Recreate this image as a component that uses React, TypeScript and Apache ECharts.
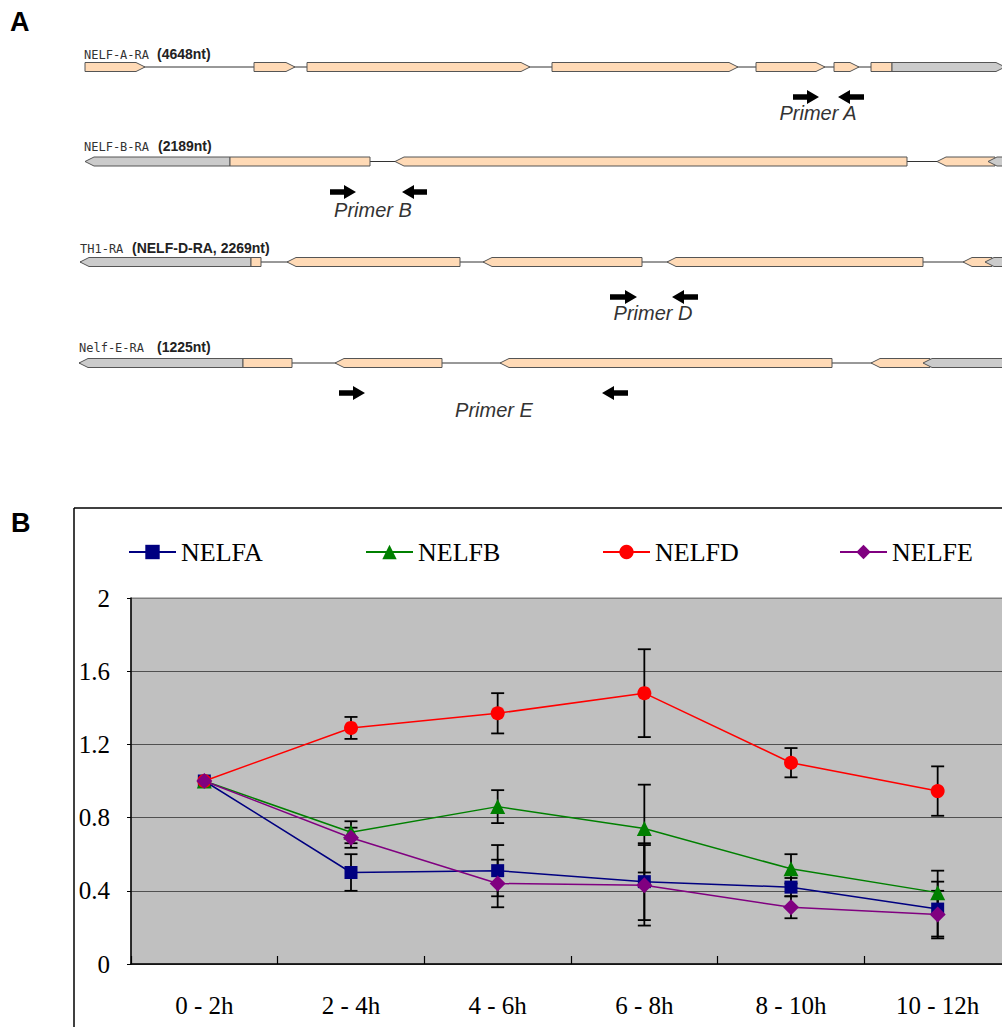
import React, { useEffect, useRef } from 'react';
import * as echarts from 'echarts';

// ---------------- Panel B data ----------------
const categories = ['0 - 2h', '2 - 4h', '4 - 6h', '6 - 8h', '8 - 10h', '10 - 12h'];
const seriesNames = ['NELFA', 'NELFB', 'NELFD', 'NELFE'];
const nelfaValues = [1.0, 0.5, 0.51, 0.45, 0.42, 0.3];
const nelfaErrors = [0, 0.1, 0.14, 0.21, 0.05, 0.15];
const nelfbValues = [1.0, 0.72, 0.86, 0.74, 0.52, 0.39];
const nelfbErrors = [0, 0.06, 0.09, 0.24, 0.08, 0.12];
const nelfdValues = [1.0, 1.29, 1.37, 1.48, 1.1, 0.945];
const nelfdErrors = [0, 0.06, 0.11, 0.24, 0.08, 0.135];
const nelfeValues = [1.0, 0.69, 0.44, 0.43, 0.31, 0.27];
const nelfeErrors = [0, 0.055, 0.13, 0.22, 0.06, 0.13];
const yMin = 0;
const yMax = 2;
const yInterval = 0.4;

// ---------------- Panel A data ----------------
const geneNames = ['NELF-A-RA', 'NELF-B-RA', 'TH1-RA', 'Nelf-E-RA'];
const geneLengths = ['(4648nt)', '(2189nt)', '(NELF-D-RA, 2269nt)', '(1225nt)'];
// segment: [start, end, type (0 = coding, 1 = UTR), tip (1 right, -1 left, 0 none)]
const nelfASegments = [
  [85, 145, 0, 1], [254, 295, 0, 1], [307, 530, 0, 1], [552, 738, 0, 1],
  [756, 825, 0, 1], [834, 859, 0, 1], [871, 892, 0, 0], [892, 1005, 1, 1],
];
const nelfBSegments = [
  [85, 230, 1, -1], [230, 370, 0, 0], [395, 907, 0, -1], [937, 995, 0, -1], [988, 1015, 1, -1],
];
const nelfDSegments = [
  [80, 251, 1, -1], [251, 261, 0, 0], [287, 460, 0, -1], [483, 642, 0, -1],
  [667, 923, 0, -1], [963, 992, 0, -1], [985, 1015, 1, -1],
];
const nelfESegments = [
  [79, 243, 1, -1], [243, 292, 0, 0], [335, 442, 0, -1], [500, 832, 0, -1],
  [871, 930, 0, -1], [923, 1015, 1, -1],
];
const geneSpans = [[85, 1002], [85, 1015], [80, 1015], [79, 1015]];
// primer arrows: [gene row, start, end, direction]
const primerArrows = [
  [0, 793, 819, 1], [0, 838, 864, -1],
  [1, 330, 356, 1], [1, 402, 427, -1],
  [2, 610, 637, 1], [2, 672, 698, -1],
  [3, 339, 365, 1], [3, 602, 628, -1],
];
const primerLabels = ['Primer A', 'Primer B', 'Primer D', 'Primer E'];

// ---------------- layout ----------------
const W = 1020;
const H = 1027;
const ROW_Y = [67, 161.5, 262, 363];
const PRIMER_Y = [97, 192, 297, 393];
const PRIMER_LABEL_X = [818, 373, 653, 494];
const PRIMER_LABEL_Y = [113, 210, 313, 410];
const NAME_X = [84, 84, 80, 79];
const LEN_X = [157, 158, 132, 157];
const LABEL_Y = [55, 147, 249, 348];
const LEGEND_X = [128, 365, 602, 839];
const COLORS = ['#000080', '#008000', '#FF0000', '#800080'];
const SYMBOLS = ['rect', 'triangle', 'circle', 'diamond'];
const SYMBOL_SIZES = [13, 15, 14, 16];

const SERIF = '"Liberation Serif", "Times New Roman", serif';
const SANS = '"Liberation Sans", Arial, sans-serif';

export default function App() {
  const ref = useRef<HTMLDivElement>(null);

  useEffect(() => {
    if (!ref.current) return;
    const chart = echarts.init(ref.current, undefined, { renderer: 'svg' });

    const values = [nelfaValues, nelfbValues, nelfdValues, nelfeValues];
    const errors = [nelfaErrors, nelfbErrors, nelfdErrors, nelfeErrors];
    const allSegments = [nelfASegments, nelfBSegments, nelfDSegments, nelfESegments];

    const geneData: number[][] = [];
    geneSpans.forEach((sp, r) => geneData.push([r, sp[0], sp[1], 2, 0]));
    allSegments.forEach((segs, r) => segs.forEach((s) => geneData.push([r, s[0], s[1], s[2], s[3]])));

    const lineSeries = seriesNames.map((name, i) => ({
      name,
      type: 'line',
      xAxisIndex: 0,
      yAxisIndex: 0,
      data: values[i],
      symbol: SYMBOLS[i],
      symbolSize: SYMBOL_SIZES[i],
      color: COLORS[i],
      lineStyle: { color: COLORS[i], width: 1.5 },
      itemStyle: { color: COLORS[i] },
      z: 3 + i,
      silent: true,
    }));

    const errorSeries = seriesNames.map((name, i) => ({
      name: name + ' error',
      type: 'custom',
      xAxisIndex: 0,
      yAxisIndex: 0,
      z: 2,
      silent: true,
      data: values[i]
        .map((v, j) => [j, v - errors[i][j], v + errors[i][j], errors[i][j]])
        .filter((d) => d[3] > 0),
      renderItem: (params: any, api: any) => {
        const c = api.value(0);
        const lo = api.coord([c, api.value(1)]);
        const hi = api.coord([c, api.value(2)]);
        const x = lo[0];
        const cap = 6.5;
        const style = { stroke: '#000', lineWidth: 1.8 };
        return {
          type: 'group',
          children: [
            { type: 'line', shape: { x1: x, y1: lo[1], x2: x, y2: hi[1] }, style },
            { type: 'line', shape: { x1: x - cap, y1: lo[1], x2: x + cap, y2: lo[1] }, style },
            { type: 'line', shape: { x1: x - cap, y1: hi[1], x2: x + cap, y2: hi[1] }, style },
          ],
        };
      },
    }));

    const geneSeries = {
      name: 'genes',
      type: 'custom',
      xAxisIndex: 1,
      yAxisIndex: 1,
      silent: true,
      z: 1,
      data: geneData,
      renderItem: (params: any, api: any) => {
        const r = api.value(0);
        const kind = api.value(3);
        const tip = api.value(4);
        const p0 = api.coord([api.value(1), ROW_Y[r]]);
        const p1 = api.coord([api.value(2), ROW_Y[r]]);
        const yc = p0[1];
        const x0 = p0[0];
        const x1 = p1[0];
        if (kind === 2) {
          return {
            type: 'line',
            shape: { x1: x0, y1: yc, x2: x1, y2: yc },
            style: { stroke: '#333', lineWidth: 1 },
          };
        }
        const t = yc - 4.5;
        const b = yc + 4.5;
        const tl = 9;
        let pts: number[][];
        if (tip === 1) {
          pts = [[x0, t], [x1 - tl, t], [x1, yc], [x1 - tl, b], [x0, b]];
        } else if (tip === -1) {
          pts = [[x0, yc], [x0 + tl, t], [x1, t], [x1, b], [x0 + tl, b]];
        } else {
          pts = [[x0, t], [x1, t], [x1, b], [x0, b]];
        }
        return {
          type: 'polygon',
          shape: { points: pts },
          style: { fill: kind === 0 ? '#FFDAB6' : '#CBCBCB', stroke: '#555', lineWidth: 1 },
        };
      },
    };

    const primerSeries = {
      name: 'primers',
      type: 'custom',
      xAxisIndex: 1,
      yAxisIndex: 1,
      silent: true,
      z: 1,
      data: primerArrows,
      renderItem: (params: any, api: any) => {
        const r = api.value(0);
        const dir = api.value(3);
        const a = api.coord([api.value(1), PRIMER_Y[r]]);
        const bb = api.coord([api.value(2), PRIMER_Y[r]]);
        const y = a[1];
        const s = 2.8;
        const hh = 7;
        const hl = 12;
        let pts: number[][];
        const x0 = a[0], x1 = bb[0];
        if (dir === 1) {
          pts = [[x0, y - s], [x1 - hl, y - s], [x1 - hl, y - hh], [x1, y], [x1 - hl, y + hh], [x1 - hl, y + s], [x0, y + s]];
        } else {
          pts = [[x1, y - s], [x0 + hl, y - s], [x0 + hl, y - hh], [x0, y], [x0 + hl, y + hh], [x0 + hl, y + s], [x1, y + s]];
        }
        return { type: 'polygon', shape: { points: pts }, style: { fill: '#000' } };
      },
    };

    const graphics: any[] = [
      { type: 'text', x: 10, y: 8, style: { text: 'A', font: `bold 27px ${SANS}`, fill: '#000' } },
      { type: 'text', x: 11, y: 509, style: { text: 'B', font: `bold 27px ${SANS}`, fill: '#000' } },
      { type: 'line', shape: { x1: 74, y1: 508, x2: W, y2: 508 }, style: { stroke: '#000', lineWidth: 1.5 } },
      { type: 'line', shape: { x1: 74, y1: 508, x2: 74, y2: H }, style: { stroke: '#000', lineWidth: 1.5 } },
    ];
    geneNames.forEach((n, i) => {
      graphics.push({
        type: 'text', x: NAME_X[i], y: LABEL_Y[i],
        style: { text: n, font: '12px "DejaVu Sans Mono", monospace', fill: '#333', verticalAlign: 'middle' },
      });
      graphics.push({
        type: 'text', x: LEN_X[i], y: LABEL_Y[i] - 1,
        style: { text: geneLengths[i], font: `bold 14px ${SANS}`, fill: '#222', verticalAlign: 'middle' },
      });
    });
    primerLabels.forEach((p, i) => {
      graphics.push({
        type: 'text', x: PRIMER_LABEL_X[i], y: PRIMER_LABEL_Y[i],
        style: { text: p, font: `italic 20px ${SANS}`, fill: '#333', align: 'center', verticalAlign: 'middle' },
      });
    });

    const option: any = {
      animation: false,
      backgroundColor: '#fff',
      legend: seriesNames.map((n, i) => ({
        data: [n],
        left: LEGEND_X[i],
        top: 539,
        padding: 0,
        itemWidth: 47,
        itemHeight: 18,
        itemGap: 0,
        selectedMode: false,
        textStyle: { fontFamily: SERIF, fontSize: 26, color: '#000', lineHeight: 26 },
      })),
      grid: [
        {
          left: 131, top: 598, width: 880, height: 366,
          show: true, backgroundColor: '#C0C0C0', borderColor: '#808080', borderWidth: 1,
        },
        { left: 0, top: 0, width: W, height: H, show: false },
      ],
      xAxis: [
        {
          type: 'category',
          gridIndex: 0,
          data: categories,
          boundaryGap: true,
          axisLine: { lineStyle: { color: '#000', width: 1.5 } },
          axisTick: { show: true, inside: true, length: 8, interval: 0, lineStyle: { color: '#000', width: 1.2 } },
          axisLabel: { interval: 0, margin: 29, fontFamily: SERIF, fontSize: 25, color: '#000' },
          splitLine: { show: false },
        },
        { type: 'value', gridIndex: 1, min: 0, max: W, show: false },
      ],
      yAxis: [
        {
          type: 'value',
          gridIndex: 0,
          min: yMin,
          max: yMax,
          interval: yInterval,
          axisLine: { show: true, lineStyle: { color: '#000', width: 1.5 } },
          axisTick: { show: true, length: 4, lineStyle: { color: '#000' } },
          axisLabel: { margin: 21, fontFamily: SERIF, fontSize: 25, color: '#000' },
          splitLine: { show: true, lineStyle: { color: ['#505050', '#505050', '#505050', '#505050', '#505050', '#808080'], width: 1 } },
        },
        { type: 'value', gridIndex: 1, min: 0, max: H, inverse: true, show: false },
      ],
      graphic: graphics,
      series: [geneSeries, primerSeries, ...errorSeries, ...lineSeries],
    };

    chart.setOption(option);
    return () => chart.dispose();
  }, []);

  return (
    <div style={{ position: 'absolute', left: 0, top: 0, width: 1002, height: 1027, overflow: 'hidden', background: '#fff' }}>
      <div ref={ref} style={{ width: W, height: H }} />
    </div>
  );
}
